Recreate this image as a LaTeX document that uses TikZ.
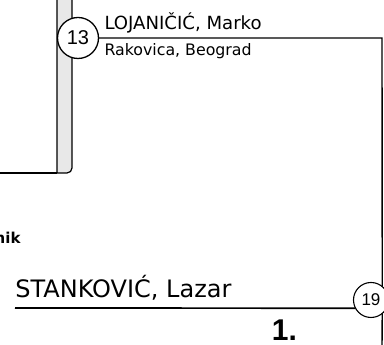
\documentclass[tikz,border=0pt]{standalone}
\usepackage{fontspec}
\setmainfont{DejaVu Sans}
\newfontfamily\arialf{Liberation Sans}
\tikzset{
  wire/.style={line width=1.4pt, draw=black},
  badge/.style={circle, draw=black, fill=white, inner sep=0pt, outer sep=0pt},
  lbl/.style={inner sep=0pt, outer sep=0pt},
}
\begin{document}
\begin{tikzpicture}[x=1pt,y=1pt]
\useasboundingbox (0,0) rectangle (384,345);
% gray bar
\draw[line width=1.2pt, fill=gray!18] (57,350) -- (57,172) -- (67,172) arc[start angle=-90,end angle=0,radius=5] -- (72,350);
\coordinate (lb) at (-2,172);
\coordinate (lbe) at (57,172);
\draw[wire] (lb) -- (lbe);
% badges
\node[badge, line width=1.3pt, minimum size=41pt] (c13) at (78,307) {\arialf\fontsize{20}{21}\selectfont 13};
\node[badge, line width=1.1pt, minimum size=35pt] (c19) at (371,45) {\arialf\fontsize{17}{18}\selectfont 19};
% texts
\node[lbl, anchor=base west] (n1) at (104.5,315) {\fontsize{18.1}{19}\selectfont LOJANIČIĆ, Marko};
\node[lbl, anchor=base west] (n2) at (104.5,289) {\fontsize{15.8}{16}\selectfont Rakovica, Beograd};
\node[lbl, anchor=base west] (n3) at (15.4,47) {\fontsize{24}{25}\selectfont STANKOVIĆ, Lazar};
\node[lbl, anchor=base west] (n4) at (272,4) {\arialf\bfseries\fontsize{30}{31}\selectfont 1.};
\node[lbl, anchor=base east] (n5) at (20.5,101) {\bfseries\fontsize{15}{16}\selectfont nik};
% connectors
\coordinate (tr) at (382,307);
\coordinate (br) at (382,-2);
\coordinate (bl) at (15,37);
\draw[wire] (c13.east) -- (tr) -- (c19.50);
\draw[wire] (c19.-50) -- (br);
\draw[wire, line width=1.7pt] (bl) -- (c19.208);
\end{tikzpicture}
\end{document}
